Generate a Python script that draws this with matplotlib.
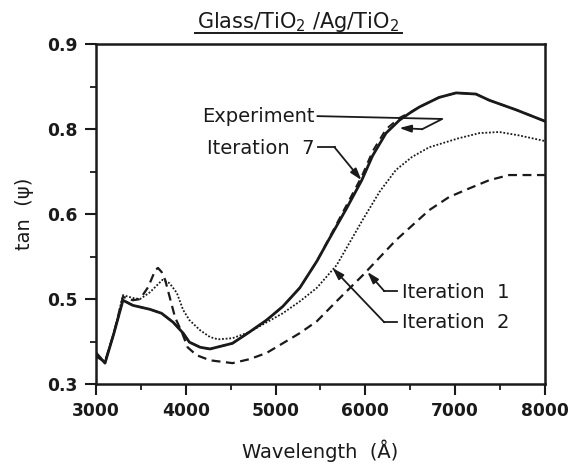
import numpy as np
import matplotlib
matplotlib.use("Agg")
import matplotlib.pyplot as plt
from matplotlib.ticker import FixedLocator, MultipleLocator, FuncFormatter

plt.rcParams["font.family"] = "DejaVu Sans"

# tan(psi) spectra, wavelength in Angstrom
wl_exp = [3000, 3100, 3200, 3300, 3410, 3600, 3730, 3860, 3970, 4040, 4160, 4270,
          4520, 4710, 4900, 5080, 5270, 5460, 5600, 5790, 5960, 6080, 6230, 6380,
          6490, 6600, 6820, 7010, 7230, 7380, 7680, 8000]
tan_exp = [0.355, 0.337, 0.390, 0.448, 0.439, 0.432, 0.425, 0.409, 0.390, 0.374, 0.365, 0.362,
           0.372, 0.392, 0.413, 0.437, 0.470, 0.517, 0.557, 0.610, 0.660, 0.703, 0.743, 0.766,
           0.778, 0.789, 0.806, 0.814, 0.812, 0.801, 0.784, 0.764]

wl_it7 = wl_exp
tan_it7 = [0.355, 0.337, 0.390, 0.448, 0.439, 0.432, 0.425, 0.409, 0.390, 0.374, 0.365, 0.362,
           0.372, 0.392, 0.413, 0.437, 0.470, 0.517, 0.559, 0.616, 0.667, 0.711, 0.750, 0.770,
           0.779, 0.789, 0.806, 0.814, 0.812, 0.801, 0.784, 0.764]

wl_it1 = [3000, 3100, 3200, 3300, 3410, 3490, 3580, 3660, 3690, 3730, 3770, 3820, 3880,
          3960, 4020, 4120, 4270, 4520, 4710, 4900, 5080, 5270, 5460, 5690, 5970, 6340,
          6710, 6930, 7120, 7380, 7600, 8000]
tan_it1 = [0.349, 0.339, 0.390, 0.454, 0.448, 0.450, 0.471, 0.501, 0.505, 0.498, 0.484, 0.454, 0.418,
           0.390, 0.365, 0.351, 0.342, 0.337, 0.344, 0.355, 0.372, 0.390, 0.411, 0.448, 0.492, 0.554,
           0.607, 0.630, 0.643, 0.660, 0.669, 0.669]

wl_it2 = [3000, 3100, 3200, 3300, 3410, 3490, 3600, 3740, 3820, 3900, 3970, 4040, 4160,
          4270, 4360, 4520, 4710, 4900, 5080, 5270, 5460, 5680, 5970, 6160, 6340, 6520,
          6710, 7040, 7270, 7490, 7710, 8000]
tan_it2 = [0.350, 0.339, 0.390, 0.457, 0.452, 0.450, 0.462, 0.484, 0.478, 0.461, 0.431, 0.413, 0.395,
           0.383, 0.379, 0.381, 0.392, 0.409, 0.425, 0.446, 0.470, 0.510, 0.590, 0.640, 0.678, 0.701,
           0.718, 0.734, 0.743, 0.745, 0.739, 0.729]

y_major = [0.3, 0.45, 0.6, 0.75, 0.9]

fig = plt.figure(figsize=(5.68, 4.65), dpi=100)
ax = fig.add_axes([0.169, 0.174, 0.7905, 0.731])

ink = "#1a1a1a"
ax.plot(wl_exp, tan_exp, color=ink, lw=2.0, solid_joinstyle="round")
ax.plot(wl_it7, tan_it7, color=ink, lw=1.4, ls=(0, (4, 3)))
ax.plot(wl_it1, tan_it1, color=ink, lw=1.6, ls=(0, (4, 2.5)))
ax.plot(wl_it2, tan_it2, color=ink, lw=1.3, ls=(0, (1, 1)))

ax.set_xlim(3000, 8000)
ax.set_ylim(0.3, 0.9)

ax.xaxis.set_major_locator(MultipleLocator(1000))
ax.xaxis.set_minor_locator(MultipleLocator(500))
ax.yaxis.set_major_locator(FixedLocator(y_major))
ax.yaxis.set_minor_locator(FixedLocator([0.375, 0.525, 0.675, 0.825]))
# one-decimal labels, rounded half up
ax.yaxis.set_major_formatter(FuncFormatter(lambda v, p: f"{np.floor(v * 10 + 0.5) / 10:.1f}"))

ax.tick_params(which="major", direction="out", length=8, width=1.5, colors=ink,
               labelsize=12.3, top=False, right=False, pad=5)
ax.tick_params(which="minor", direction="out", length=4, width=1.3, colors=ink,
               top=False, right=False)
for lab in ax.get_xticklabels() + ax.get_yticklabels():
    lab.set_fontweight("bold")
for sp in ax.spines.values():
    sp.set_linewidth(1.8)
    sp.set_color(ink)

ax.set_xlabel("Wavelength  (Å)", fontsize=14, color=ink, labelpad=14)
ax.set_ylabel("tan  (ψ)", fontsize=14, color=ink, labelpad=10)

# underlined title
fig.text(0.525, 0.952, "Glass/TiO$_2$ /Ag/TiO$_2$", ha="center", va="center",
         fontsize=15, color=ink)
fig.add_artist(plt.Line2D([0.343, 0.708], [0.929, 0.929], color=ink, lw=1.4))

arrow = dict(arrowstyle="-|>,head_length=0.7,head_width=0.22", color=ink, lw=1.3,
             shrinkA=0, shrinkB=0)

# Experiment label with folded leader
ax.text(5430, 0.773, "Experiment", ha="right", va="center", fontsize=14, color=ink)
ax.plot([5467, 6856, 6633], [0.773, 0.768, 0.750], color=ink, lw=1.3)
ax.annotate("", xy=(6378, 0.752), xytext=(6633, 0.750), arrowprops=arrow)

# Iteration 7
ax.text(5430, 0.716, "Iteration  7", ha="right", va="center", fontsize=14, color=ink)
ax.plot([5467, 5656], [0.718, 0.718], color=ink, lw=1.3)
ax.annotate("", xy=(5956, 0.660), xytext=(5656, 0.718), arrowprops=arrow)

# Iteration 1
ax.text(6410, 0.462, "Iteration  1", ha="left", va="center", fontsize=14, color=ink)
ax.plot([6356, 6211], [0.464, 0.464], color=ink, lw=1.3)
ax.annotate("", xy=(6022, 0.498), xytext=(6211, 0.464), arrowprops=arrow)

# Iteration 2
ax.text(6410, 0.408, "Iteration  2", ha="left", va="center", fontsize=14, color=ink)
ax.plot([6356, 6211], [0.409, 0.409], color=ink, lw=1.3)
ax.annotate("", xy=(5633, 0.505), xytext=(6211, 0.409), arrowprops=arrow)

fig.savefig("out.png", dpi=100)
